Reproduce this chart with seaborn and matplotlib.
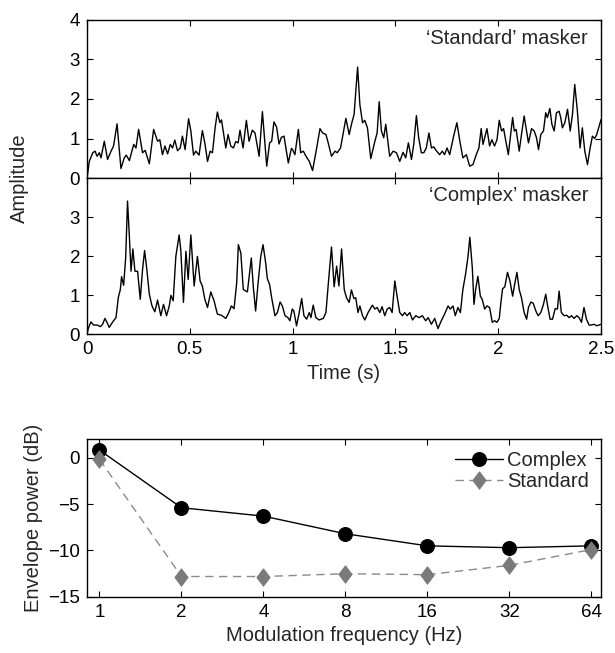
import numpy as np
import pandas as pd
import matplotlib
matplotlib.use("Agg")
import matplotlib.pyplot as plt
import seaborn as sns

# ---- envelope traces (time in s, amplitude) ----
std_t1 = [0, 0.011, 0.028, 0.039, 0.049, 0.060, 0.068, 0.084, 0.100, 0.117, 0.129, 0.146, 0.165, 0.181, 0.191,
          0.206, 0.227, 0.238, 0.251, 0.270, 0.283, 0.303, 0.324, 0.335, 0.343, 0.354, 0.367, 0.379, 0.392, 0.405,
          0.416, 0.427, 0.440, 0.453, 0.464, 0.477, 0.494, 0.505, 0.518, 0.529, 0.545, 0.561, 0.573, 0.586, 0.599,
          0.610, 0.623, 0.634, 0.646, 0.654, 0.675, 0.686, 0.699, 0.712, 0.723, 0.735, 0.744, 0.759, 0.775, 0.788,
          0.804, 0.817, 0.837, 0.853, 0.874, 0.888, 0.898, 0.909, 0.922, 0.934, 0.945, 0.958, 0.979, 0.994]
std_a1 = [0, 0.42, 0.64, 0.68, 0.55, 0.64, 0.51, 0.93, 0.47, 0.68, 0.81, 1.37, 0.24, 0.51, 0.58,
          0.44, 0.85, 0.76, 1.23, 0.64, 0.70, 0.36, 1.23, 1.06, 0.93, 0.97, 0.59, 0.81, 0.61, 0.85,
          0.76, 0.96, 0.69, 0.76, 1.06, 0.72, 1.50, 1.19, 0.58, 0.68, 0.58, 1.20, 0.89, 0.42, 0.68,
          0.64, 1.27, 1.67, 1.40, 1.47, 0.76, 1.10, 0.81, 0.76, 0.92, 0.89, 1.21, 0.76, 1.46, 0.93,
          1.21, 1.14, 0.55, 1.68, 0.30, 0.89, 0.93, 1.42, 1.29, 0.86, 1.03, 1.06, 0.38, 0.75]
std_t2 = [1.000, 1.011, 1.028, 1.039, 1.052, 1.065, 1.081, 1.097, 1.117, 1.133, 1.146, 1.162, 1.173, 1.189, 1.206,
          1.217, 1.233, 1.246, 1.259, 1.275, 1.288, 1.299, 1.316, 1.327, 1.340, 1.351, 1.364, 1.380, 1.400, 1.411,
          1.421, 1.432, 1.443, 1.453, 1.472, 1.489, 1.505, 1.521, 1.537, 1.550, 1.563, 1.578, 1.589, 1.602, 1.613,
          1.626, 1.638, 1.650, 1.663, 1.675, 1.686, 1.699, 1.715, 1.728, 1.739, 1.751, 1.764, 1.783, 1.799, 1.812,
          1.828, 1.845, 1.861, 1.877, 1.893, 1.906, 1.917, 1.926, 1.945, 1.958, 1.969, 1.982, 1.994]
std_a2 = [0.72, 0.59, 1.23, 0.64, 0.68, 0.55, 0.42, 0.19, 0.76, 1.25, 1.14, 1.10, 0.89, 0.55, 0.68,
          0.64, 0.76, 1.14, 1.51, 1.10, 1.40, 1.61, 2.81, 1.86, 1.40, 1.46, 1.27, 0.49, 0.93, 1.14,
          1.93, 1.19, 1.02, 1.36, 0.55, 0.68, 0.64, 0.42, 0.65, 0.51, 0.89, 0.47, 0.85, 1.58, 1.02,
          0.64, 0.64, 0.76, 1.14, 0.76, 0.79, 0.69, 0.59, 0.68, 0.59, 0.76, 0.59, 1.06, 1.40, 0.97,
          0.51, 0.59, 0.30, 0.34, 0.59, 0.76, 1.25, 0.85, 1.25, 0.81, 0.97, 0.81, 0.97]
std_t3 = [2.005, 2.016, 2.026, 2.034, 2.049, 2.070, 2.078, 2.087, 2.102, 2.113, 2.126, 2.138, 2.147, 2.162, 2.175,
          2.186, 2.196, 2.207, 2.220, 2.231, 2.239, 2.251, 2.261, 2.272, 2.283, 2.296, 2.304, 2.312, 2.324, 2.337,
          2.350, 2.361, 2.372, 2.385, 2.398, 2.409, 2.421, 2.434, 2.447, 2.458, 2.469, 2.479, 2.500]
std_a3 = [1.46, 1.19, 1.25, 1.02, 0.59, 1.53, 1.19, 1.23, 0.68, 1.10, 1.57, 1.19, 0.89, 1.25, 1.19,
          1.02, 0.72, 1.10, 1.19, 1.65, 1.53, 1.76, 1.36, 1.19, 1.65, 1.69, 1.53, 1.27, 1.40, 1.74,
          1.19, 1.61, 2.37, 1.69, 0.76, 1.27, 0.68, 0.34, 0.76, 1.06, 1.00, 1.10, 1.48]

cpx_t1 = [0, 0.006, 0.019, 0.032, 0.049, 0.065, 0.076, 0.087, 0.097, 0.108, 0.125, 0.141, 0.152, 0.162, 0.168,
          0.178, 0.188, 0.197, 0.206, 0.214, 0.223, 0.233, 0.246, 0.259, 0.270, 0.280, 0.291, 0.303, 0.316, 0.330,
          0.343, 0.359, 0.372, 0.387, 0.400, 0.408, 0.419, 0.432, 0.448, 0.456, 0.469, 0.481, 0.492, 0.505, 0.521,
          0.537, 0.550, 0.561, 0.573, 0.586, 0.602, 0.618, 0.634, 0.654, 0.675, 0.688, 0.702, 0.715, 0.728, 0.736,
          0.748, 0.760, 0.780, 0.799, 0.809, 0.820, 0.832, 0.845, 0.856, 0.869, 0.877, 0.888, 0.898, 0.914, 0.926,
          0.939, 0.950, 0.963, 0.977, 0.987, 0.998]
cpx_a1 = [0, 0.14, 0.31, 0.23, 0.23, 0.19, 0.25, 0.40, 0.30, 0.17, 0.31, 0.42, 0.93, 1.14, 1.47,
          1.25, 1.95, 3.41, 2.50, 1.61, 2.18, 1.61, 1.61, 0.89, 1.65, 2.14, 1.65, 1.02, 0.72, 0.57,
          0.87, 0.47, 0.76, 0.47, 0.72, 0.99, 0.85, 1.99, 2.54, 2.16, 0.81, 2.12, 1.40, 2.54, 1.23,
          1.99, 1.36, 1.23, 0.89, 0.68, 1.08, 0.85, 0.51, 0.48, 0.40, 0.53, 0.72, 0.65, 1.31, 2.29,
          2.08, 1.14, 1.08, 1.95, 1.19, 0.59, 1.31, 1.99, 2.29, 1.82, 1.42, 1.27, 0.93, 0.47, 0.55,
          0.82, 0.72, 0.47, 0.42, 0.34, 0.64]
cpx_t2 = [1.006, 1.019, 1.032, 1.044, 1.055, 1.068, 1.081, 1.089, 1.100, 1.113, 1.129, 1.149, 1.162, 1.178, 1.189,
          1.202, 1.214, 1.225, 1.238, 1.251, 1.262, 1.275, 1.286, 1.298, 1.307, 1.318, 1.327, 1.340, 1.351, 1.367,
          1.388, 1.400, 1.411, 1.424, 1.435, 1.448, 1.460, 1.472, 1.484, 1.497, 1.508, 1.521, 1.534, 1.545, 1.557,
          1.570, 1.583, 1.599, 1.615, 1.631, 1.647, 1.659, 1.675, 1.691, 1.707, 1.723, 1.739, 1.756, 1.767, 1.780,
          1.791, 1.804, 1.816, 1.828, 1.841, 1.853, 1.862, 1.874, 1.882, 1.890, 1.901, 1.913, 1.922, 1.934, 1.945,
          1.958, 1.971, 1.982, 1.994]
cpx_a2 = [0.59, 0.21, 0.55, 0.91, 0.47, 0.38, 0.55, 0.42, 0.74, 0.42, 0.36, 0.40, 0.55, 1.57, 2.23,
          1.21, 1.74, 1.23, 2.18, 1.14, 0.93, 0.81, 1.13, 0.91, 0.93, 0.55, 0.72, 0.47, 0.36, 0.55,
          0.74, 0.64, 0.68, 0.55, 0.70, 0.47, 0.64, 0.68, 0.55, 1.36, 0.97, 0.55, 0.47, 0.55, 0.47,
          0.55, 0.36, 0.47, 0.42, 0.47, 0.34, 0.42, 0.25, 0.40, 0.14, 0.34, 0.51, 0.72, 0.64, 0.72,
          0.47, 0.68, 0.55, 1.14, 1.53, 1.99, 2.48, 1.69, 0.76, 1.14, 1.48, 0.97, 0.89, 0.64, 0.72,
          0.68, 0.30, 0.34, 0.30]
cpx_t3 = [2.005, 2.013, 2.021, 2.032, 2.045, 2.057, 2.070, 2.081, 2.091, 2.102, 2.113, 2.126, 2.138, 2.147, 2.159,
          2.170, 2.183, 2.194, 2.207, 2.220, 2.231, 2.239, 2.252, 2.264, 2.277, 2.288, 2.296, 2.307, 2.320, 2.333,
          2.345, 2.356, 2.369, 2.382, 2.393, 2.405, 2.417, 2.429, 2.442, 2.453, 2.466, 2.479, 2.500]
cpx_a3 = [0.40, 0.81, 1.16, 1.21, 1.58, 1.36, 0.97, 1.31, 1.58, 1.14, 0.93, 0.55, 0.38, 0.68, 0.82,
          0.79, 0.59, 0.47, 0.55, 0.76, 1.02, 0.76, 0.38, 0.38, 0.65, 0.64, 1.10, 0.55, 0.47, 0.48,
          0.42, 0.47, 0.40, 0.47, 0.42, 0.30, 0.68, 0.38, 0.23, 0.23, 0.25, 0.21, 0.25]

# ---- envelope power spectrum ----
mod_freq = [1, 2, 4, 8, 16, 32, 64]
power_complex = [0.8, -5.4, -6.3, -8.2, -9.5, -9.7, -9.5]
power_standard = [-0.2, -12.8, -12.8, -12.5, -12.6, -11.6, -9.9]

std_trace = pd.DataFrame({"t": std_t1 + std_t2 + std_t3, "amp": std_a1 + std_a2 + std_a3})
cpx_trace = pd.DataFrame({"t": cpx_t1 + cpx_t2 + cpx_t3, "amp": cpx_a1 + cpx_a2 + cpx_a3})

sns.set_style("ticks")
plt.rcParams['font.family'] = ['Liberation Sans', 'DejaVu Sans']
plt.rcParams['axes.linewidth'] = 1.0
plt.rcParams['axes.edgecolor'] = 'black'

tick_fs = 13.5
label_fs = 14.5

fig = plt.figure(figsize=(6.15, 6.53), dpi=100)
ax1 = fig.add_axes([0.1415, 0.7274, 0.8358, 0.2420])
ax2 = fig.add_axes([0.1415, 0.4885, 0.8358, 0.2389])
ax3 = fig.add_axes([0.1415, 0.0858, 0.8358, 0.2420])

sns.lineplot(data=std_trace, x="t", y="amp", ax=ax1, color="black", lw=1.0, sort=False, estimator=None)
sns.lineplot(data=cpx_trace, x="t", y="amp", ax=ax2, color="black", lw=1.0, sort=False, estimator=None)

for ax in (ax1, ax2):
    ax.set_xlim(0, 2.5)
    ax.set_ylim(0, 4)
    ax.set_xticks([0, 0.5, 1, 1.5, 2, 2.5])
    ax.set_xlabel("")
    ax.set_ylabel("")
ax1.set_yticks([0, 1, 2, 3, 4])
ax2.set_yticks([0, 1, 2, 3])
ax1.tick_params(labelbottom=False)
ax2.set_xticklabels(["0", "0.5", "1", "1.5", "2", "2.5"])
ax2.set_xlabel("Time (s)", fontsize=label_fs, labelpad=4)

ax1.text(0.975, 0.885, "\u2018Standard\u2019 masker", transform=ax1.transAxes,
         ha="right", va="center", fontsize=label_fs)
ax2.text(0.975, 0.885, "\u2018Complex\u2019 masker", transform=ax2.transAxes,
         ha="right", va="center", fontsize=label_fs)
fig.text(0.032, 0.7274, "Amplitude", rotation=90, ha="center", va="center", fontsize=label_fs)

# bottom panel
diamond = [(0, 1), (0.75, 0), (0, -1), (-0.75, 0), (0, 1)]
sns.lineplot(x=mod_freq, y=power_complex, ax=ax3, color="black", lw=1.0,
             marker="o", markersize=10, markeredgecolor="black", label="Complex")
sns.lineplot(x=mod_freq, y=power_standard, ax=ax3, color="#8a8a8a", lw=1.0, linestyle=(0, (6, 4)),
             marker=diamond, markersize=12.5, markeredgecolor="#7a7a7a", markerfacecolor="#7a7a7a",
             label="Standard")
ax3.set_xscale("log", base=2)
ax3.set_xticks(mod_freq)
ax3.set_xticklabels([str(f) for f in mod_freq])
ax3.minorticks_off()
ax3.set_xlim(0.9, 69.5)
ax3.set_ylim(-15, 2)
ax3.set_yticks([-15, -10, -5, 0])
ax3.set_yticklabels(["\u221215", "\u221210", "\u22125", "0"])
ax3.set_xlabel("Modulation frequency (Hz)", fontsize=label_fs, labelpad=4)
ax3.set_ylabel("Envelope power (dB)", fontsize=label_fs, labelpad=4)
ax3.legend(loc="upper right", frameon=False, fontsize=label_fs, handlelength=2.4,
           handletextpad=0.2, borderaxespad=0.2, labelspacing=0.1)

for ax in (ax1, ax2, ax3):
    ax.tick_params(direction="in", top=True, right=True, length=4, width=0.8,
                   labelsize=tick_fs, pad=5, colors="black")
    for s in ax.spines.values():
        s.set_visible(True)
        s.set_color("black")

fig.savefig("out.png", dpi=100)
